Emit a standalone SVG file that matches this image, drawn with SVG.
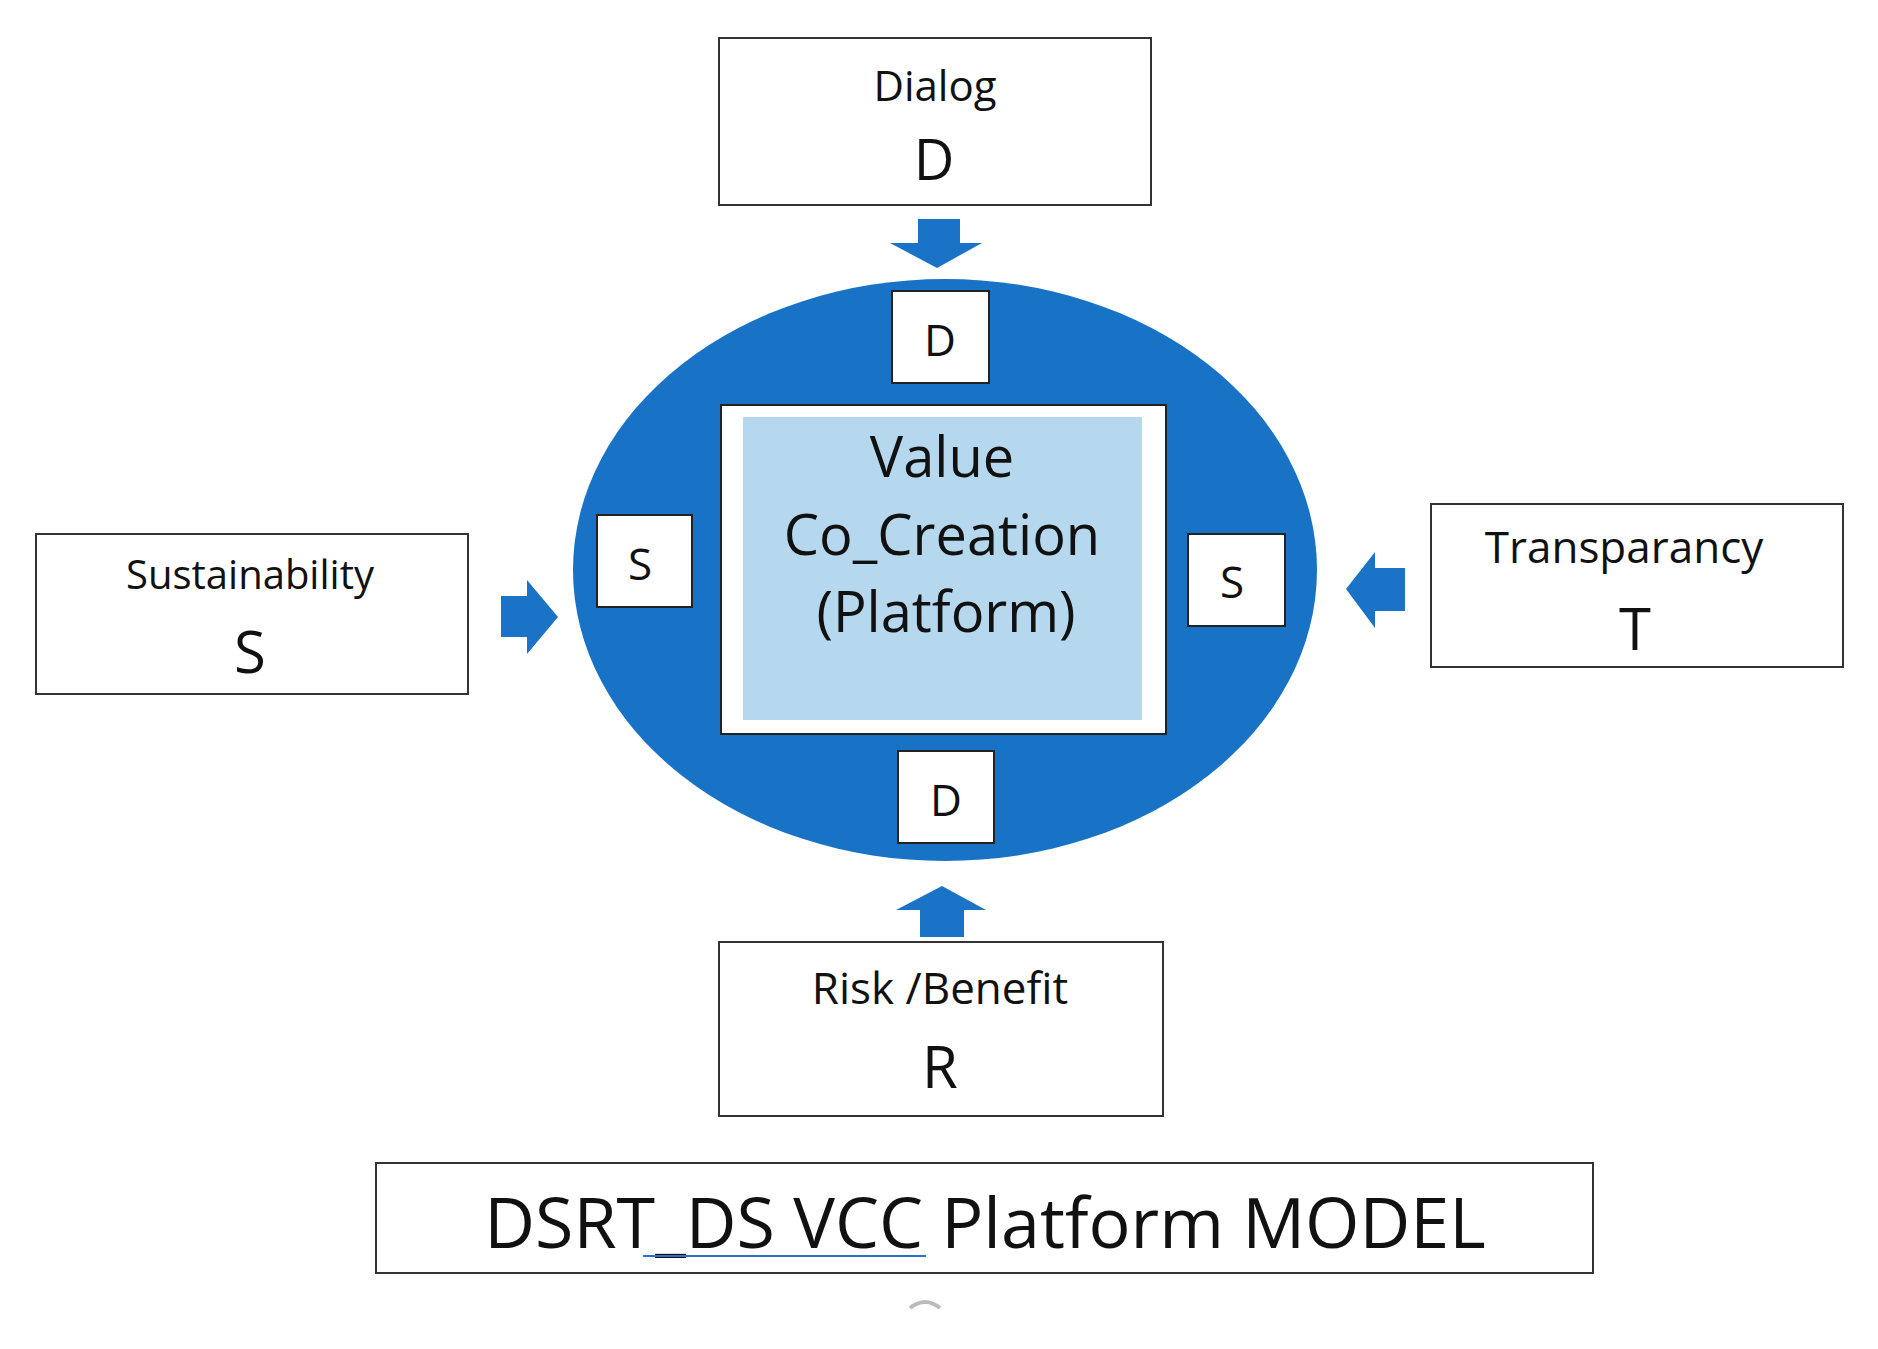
<svg xmlns="http://www.w3.org/2000/svg" width="1878" height="1349" viewBox="0 0 1878 1349">
<style>
.box{fill:#fff;stroke:#333;stroke-width:2}
.wb{fill:#fff;stroke:#222;stroke-width:2}
.t{font-family:"Open Sans","Liberation Sans",sans-serif;fill:#111;text-anchor:middle}
.ar{fill:#1a73c6}
</style>
<rect width="1878" height="1349" fill="#fff"/>
<g id="connectors">
<polygon class="ar" points="918,219 960,219 960,243 982,243 937,268 890,243 918,243"/>
<polygon class="ar" points="501,596 527,596 527,580 558,617 527,654 527,637 501,637"/>
<polygon class="ar" points="1405,568 1375,568 1375,552 1346,589 1375,628 1375,611 1405,611"/>
<polygon class="ar" points="920,937 964,937 964,910 986,910 942,886 896,910 920,910"/>
</g>
<g id="platform">
<ellipse cx="945" cy="570" rx="372" ry="291" fill="#1873c7"/>
<rect x="721" y="405" width="445" height="329" class="wb"/>
<rect x="743" y="417" width="399" height="303" fill="#b5d8ef"/>
<text class="t" x="942" y="477" font-size="56">Value</text>
<text class="t" x="942" y="555" font-size="56">Co_Creation</text>
<text class="t" x="946" y="632" font-size="56">(Platform)</text>
</g>
<g id="d-top"><rect x="892" y="291" width="97" height="92" class="wb"/><text class="t" x="940" y="356" font-size="44">D</text></g>
<g id="s-left"><rect x="597" y="515" width="95" height="92" class="wb"/><text class="t" x="640" y="580" font-size="44">S</text></g>
<g id="s-right"><rect x="1188" y="534" width="97" height="92" class="wb"/><text class="t" x="1232" y="598" font-size="44">S</text></g>
<g id="d-bottom"><rect x="898" y="751" width="96" height="92" class="wb"/><text class="t" x="946" y="816" font-size="44">D</text></g>
<g id="dialog"><rect x="719" y="38" width="432" height="167" class="box"/><text class="t" x="935" y="101" font-size="42">Dialog</text><text class="t" x="934" y="180" font-size="56">D</text></g>
<g id="sustainability"><rect x="36" y="534" width="432" height="160" class="box"/><text class="t" x="250" y="589" font-size="40">Sustainability</text><text class="t" x="250" y="673" font-size="58">S</text></g>
<g id="transparancy"><rect x="1431" y="504" width="412" height="163" class="box"/><text class="t" x="1624" y="563" font-size="44">Transparancy</text><text class="t" x="1635" y="650" font-size="58">T</text></g>
<g id="risk"><rect x="719" y="942" width="444" height="174" class="box"/><text class="t" x="940" y="1004" font-size="44">Risk /Benefit</text><text class="t" x="940" y="1088" font-size="58">R</text></g>
<g id="title"><rect x="376" y="1163" width="1217" height="110" class="box"/><text class="t" x="985" y="1248" font-size="70">DSRT_DS  VCC Platform MODEL</text><line x1="643" y1="1256" x2="926" y2="1256" stroke="#2a6fd0" stroke-width="2"/></g>
<path d="M910,1308 Q925,1296 940,1308" fill="none" stroke="#bbb" stroke-width="4"/>
</svg>
